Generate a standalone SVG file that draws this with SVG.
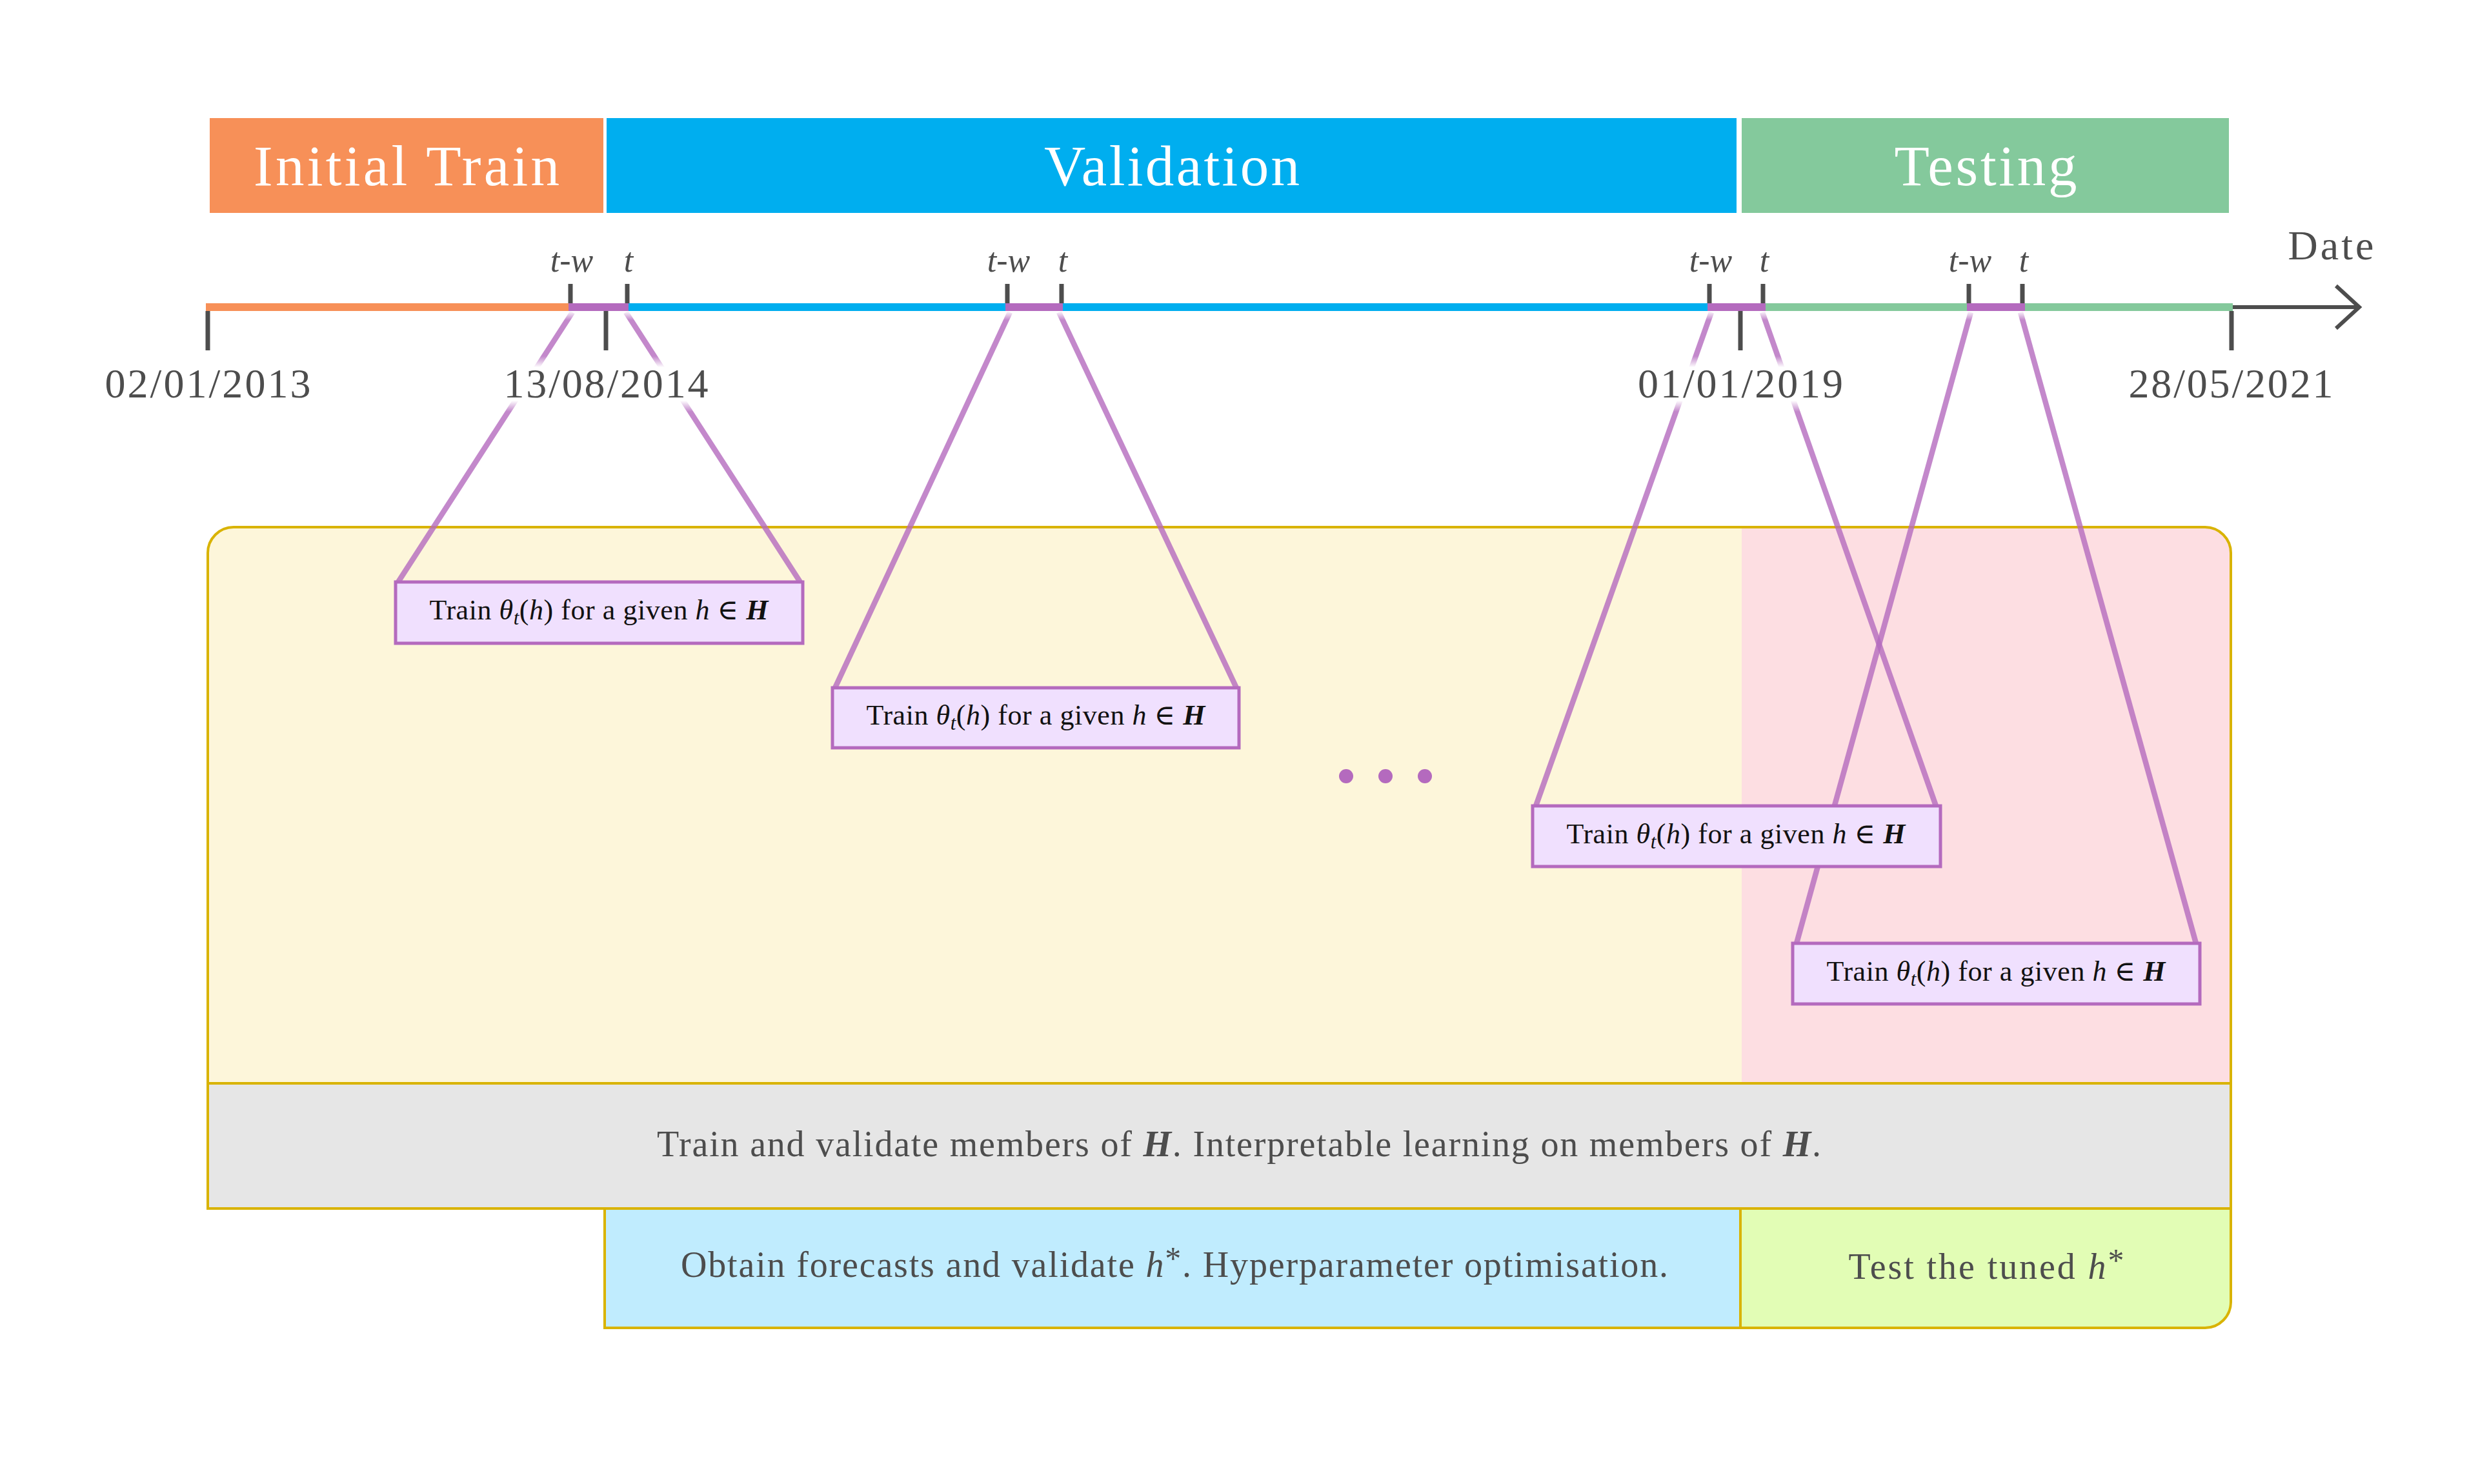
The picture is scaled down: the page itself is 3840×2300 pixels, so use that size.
<svg xmlns="http://www.w3.org/2000/svg" width="3840" height="2300" viewBox="0 0 3840 2300">
<defs>
<style>
.serif{font-family:'Liberation Serif','DejaVu Serif',serif;}
.phase{font-family:'Liberation Serif','DejaVu Serif',serif;font-size:89px;fill:#ffffff;text-anchor:middle;}
.date{font-family:'Liberation Serif','DejaVu Serif',serif;font-size:64px;fill:#4d4d4d;text-anchor:middle;}
.tw{font-family:'Liberation Serif','DejaVu Serif',serif;font-size:52px;fill:#4d4d4d;text-anchor:middle;font-style:italic;}
.tick{stroke:#4d4d4d;stroke-width:7;}
.seg{stroke-width:12;fill:none;}
.conn{stroke:#b46abe;stroke-opacity:0.8;stroke-width:8.5;fill:none;}
.tbox{fill:#f0e0fe;stroke:#b46abe;stroke-width:5;}
.tbtext{font-family:'Liberation Serif','DejaVu Serif',serif;font-size:44px;fill:#111111;text-anchor:middle;}
.band{font-family:'Liberation Serif','DejaVu Serif',serif;font-size:56px;fill:#4d4d4d;text-anchor:middle;}
.gold{stroke:#d9b300;stroke-width:4;fill:none;}
</style>
<linearGradient id="fade" x1="0" y1="0" x2="0" y2="1">
<stop offset="0" stop-color="#ffffff" stop-opacity="0"/>
<stop offset="0.2" stop-color="#ffffff" stop-opacity="1"/>
<stop offset="0.8" stop-color="#ffffff" stop-opacity="1"/>
<stop offset="1" stop-color="#ffffff" stop-opacity="0"/>
</linearGradient>
<linearGradient id="fadeTop" x1="0" y1="0" x2="0" y2="1">
<stop offset="0" stop-color="#ffffff" stop-opacity="1"/>
<stop offset="1" stop-color="#ffffff" stop-opacity="0"/>
</linearGradient>
</defs>
<rect x="0" y="0" width="3840" height="2300" fill="#ffffff"/>

<!-- Phase bars -->
<g id="phase-initial-train">
<rect x="325" y="183" width="610" height="147" fill="#f79058"/>
<text class="phase" x="630" y="287" textLength="474" lengthAdjust="spacing">Initial Train</text>
</g>
<g id="phase-validation">
<rect x="940" y="183" width="1751" height="147" fill="#00aeef"/>
<text class="phase" x="1816" y="287" textLength="396" lengthAdjust="spacing">Validation</text>
</g>
<g id="phase-testing">
<rect x="2699" y="183" width="755" height="147" fill="#84c99c"/>
<text class="phase" x="3077" y="287" textLength="283" lengthAdjust="spacing">Testing</text>
</g>

<!-- Container -->
<g id="container">
<path d="M322,1679 L322,857 A40,40 0 0 1 362,817 L2699,817 L2699,1679 Z" fill="#fdf6da"/>
<path d="M2699,817 L3417,817 A40,40 0 0 1 3457,857 L3457,1679 L2699,1679 Z" fill="#fddee2"/>
</g>
<g id="band-train-validate">
<rect x="322" y="1679" width="3135" height="194" fill="#e6e6e6"/>
<text class="band" x="1920" y="1792" textLength="1804" lengthAdjust="spacing">Train and validate members of <tspan font-weight="bold" font-style="italic">H</tspan>. Interpretable learning on members of <tspan font-weight="bold" font-style="italic">H</tspan>.</text>
</g>
<g id="band-forecasts">
<rect x="937" y="1873" width="1760" height="185" fill="#c0ecfe"/>
<text class="band" x="1820" y="1979" textLength="1530" lengthAdjust="spacing">Obtain forecasts and validate <tspan font-style="italic">h</tspan><tspan font-size="50" dy="-12">*</tspan><tspan dy="12">. Hyperparameter optimisation.</tspan></text>
</g>
<g id="band-test">
<path d="M2697,1873 L3457,1873 L3457,2018 A40,40 0 0 1 3417,2058 L2697,2058 Z" fill="#e2fdb5"/>
<text class="band" x="3078" y="1982" textLength="427" lengthAdjust="spacing">Test the tuned <tspan font-style="italic">h</tspan><tspan font-size="50" dy="-12">*</tspan></text>
</g>
<g id="container-outline">
<path class="gold" d="M322,1873 L322,857 A40,40 0 0 1 362,817 L3417,817 A40,40 0 0 1 3457,857 L3457,2018 A40,40 0 0 1 3417,2058 L937,2058 L937,1873 Z"/>
<line class="gold" x1="322" y1="1679" x2="3457" y2="1679"/>
<line class="gold" x1="322" y1="1873" x2="3457" y2="1873"/>
<line class="gold" x1="2697" y1="1873" x2="2697" y2="2058"/>
</g>

<!-- Connectors -->
<g id="connectors">
<line class="conn" x1="887" y1="484" x2="617" y2="902"/>
<line class="conn" x1="970" y1="484" x2="1240" y2="902"/>
<line class="conn" x1="1565" y1="484" x2="1294" y2="1066"/>
<line class="conn" x1="1641" y1="484" x2="1916" y2="1066"/>
<line class="conn" x1="2652" y1="484" x2="2380" y2="1249"/>
<line class="conn" x1="2731" y1="484" x2="3000" y2="1249"/>
<line class="conn" x1="3054" y1="484" x2="2784" y2="1462"/>
<line class="conn" x1="3131" y1="484" x2="3403" y2="1462"/>
</g>
<g id="connector-fades">
<rect x="860" y="482" width="130" height="14" fill="url(#fadeTop)"/>
<rect x="1540" y="482" width="120" height="14" fill="url(#fadeTop)"/>
<rect x="2630" y="482" width="120" height="14" fill="url(#fadeTop)"/>
<rect x="3030" y="482" width="120" height="14" fill="url(#fadeTop)"/>
</g>

<!-- Timeline -->
<g id="timeline">
<line class="seg" stroke="#f79058" x1="319" y1="476" x2="881" y2="476"/>
<line class="seg" stroke="#00aeef" x1="974" y1="476" x2="1558" y2="476"/>
<line class="seg" stroke="#00aeef" x1="1647" y1="476" x2="2646" y2="476"/>
<line class="seg" stroke="#84c99c" x1="2736" y1="476" x2="3048" y2="476"/>
<line class="seg" stroke="#84c99c" x1="3138" y1="476" x2="3460" y2="476"/>
<line class="seg" stroke="#b46abe" x1="881" y1="476" x2="974" y2="476"/>
<line class="seg" stroke="#b46abe" x1="1558" y1="476" x2="1647" y2="476"/>
<line class="seg" stroke="#b46abe" x1="2646" y1="476" x2="2736" y2="476"/>
<line class="seg" stroke="#b46abe" x1="3048" y1="476" x2="3138" y2="476"/>
<line x1="3460" y1="476" x2="3654" y2="476" stroke="#4d4d4d" stroke-width="6"/>
<polyline points="3620,443 3656,476 3620,509" fill="none" stroke="#4d4d4d" stroke-width="6"/>
<text class="date" x="3612" y="402" textLength="133" lengthAdjust="spacing">Date</text>
</g>

<!-- Window ticks and labels -->
<g id="window-1">
<line class="tick" x1="884" y1="440" x2="884" y2="470"/>
<line class="tick" x1="972" y1="440" x2="972" y2="470"/>
<text class="tw" x="886" y="421">t-w</text>
<text class="tw" x="974" y="421">t</text>
</g>
<g id="window-2">
<line class="tick" x1="1561" y1="440" x2="1561" y2="470"/>
<line class="tick" x1="1645" y1="440" x2="1645" y2="470"/>
<text class="tw" x="1563" y="421">t-w</text>
<text class="tw" x="1647" y="421">t</text>
</g>
<g id="window-3">
<line class="tick" x1="2649" y1="440" x2="2649" y2="470"/>
<line class="tick" x1="2732" y1="440" x2="2732" y2="470"/>
<text class="tw" x="2651" y="421">t-w</text>
<text class="tw" x="2734" y="421">t</text>
</g>
<g id="window-4">
<line class="tick" x1="3051" y1="440" x2="3051" y2="470"/>
<line class="tick" x1="3134" y1="440" x2="3134" y2="470"/>
<text class="tw" x="3053" y="421">t-w</text>
<text class="tw" x="3136" y="421">t</text>
</g>

<!-- Date ticks and labels -->
<g id="date-2013">
<line class="tick" x1="322" y1="482" x2="322" y2="543"/>
<text class="date" x="322" y="616" textLength="319" lengthAdjust="spacing">02/01/2013</text>
</g>
<g id="date-2014">
<rect x="776" y="552" width="328" height="86" fill="url(#fade)"/>
<line class="tick" x1="939" y1="482" x2="939" y2="543"/>
<text class="date" x="939" y="616" textLength="317" lengthAdjust="spacing">13/08/2014</text>
</g>
<g id="date-2019">
<rect x="2532" y="552" width="330" height="86" fill="url(#fade)"/>
<line class="tick" x1="2697" y1="482" x2="2697" y2="543"/>
<text class="date" x="2697" y="616" textLength="318" lengthAdjust="spacing">01/01/2019</text>
</g>
<g id="date-2021">
<line class="tick" x1="3458" y1="482" x2="3458" y2="543"/>
<text class="date" x="3457" y="616" textLength="317" lengthAdjust="spacing">28/05/2021</text>
</g>

<!-- Train boxes -->
<g id="train-box-1">
<rect class="tbox" x="613" y="902" width="631" height="95"/>
<text class="tbtext" x="928" y="960" textLength="525" lengthAdjust="spacing">Train <tspan font-style="italic">θ</tspan><tspan font-style="italic" font-size="31" dy="8">t</tspan><tspan dy="-8">(</tspan><tspan font-style="italic">h</tspan>) for a given <tspan font-style="italic">h</tspan> ∈ <tspan font-style="italic" font-weight="bold">H</tspan></text>
</g>
<g id="train-box-2">
<rect class="tbox" x="1290" y="1066" width="630" height="93"/>
<text class="tbtext" x="1605" y="1123" textLength="525" lengthAdjust="spacing">Train <tspan font-style="italic">θ</tspan><tspan font-style="italic" font-size="31" dy="8">t</tspan><tspan dy="-8">(</tspan><tspan font-style="italic">h</tspan>) for a given <tspan font-style="italic">h</tspan> ∈ <tspan font-style="italic" font-weight="bold">H</tspan></text>
</g>
<g id="train-box-3">
<rect class="tbox" x="2375" y="1249" width="632" height="94"/>
<text class="tbtext" x="2690" y="1307" textLength="525" lengthAdjust="spacing">Train <tspan font-style="italic">θ</tspan><tspan font-style="italic" font-size="31" dy="8">t</tspan><tspan dy="-8">(</tspan><tspan font-style="italic">h</tspan>) for a given <tspan font-style="italic">h</tspan> ∈ <tspan font-style="italic" font-weight="bold">H</tspan></text>
</g>
<g id="train-box-4">
<rect class="tbox" x="2778" y="1462" width="631" height="94"/>
<text class="tbtext" x="3093" y="1520" textLength="525" lengthAdjust="spacing">Train <tspan font-style="italic">θ</tspan><tspan font-style="italic" font-size="31" dy="8">t</tspan><tspan dy="-8">(</tspan><tspan font-style="italic">h</tspan>) for a given <tspan font-style="italic">h</tspan> ∈ <tspan font-style="italic" font-weight="bold">H</tspan></text>
</g>

<!-- Ellipsis -->
<g id="ellipsis" fill="#b46abe">
<circle cx="2086" cy="1203" r="11"/>
<circle cx="2147" cy="1203" r="11"/>
<circle cx="2208" cy="1203" r="11"/>
</g>
</svg>
